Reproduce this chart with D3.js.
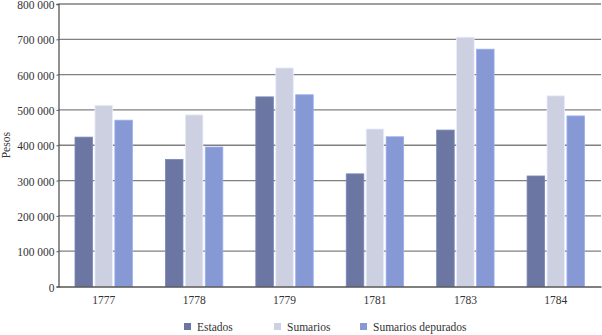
<!DOCTYPE html>
<html>
<head>
<meta charset="utf-8">
<script src="https://cdn.jsdelivr.net/npm/d3@7"></script>
<style>
  html, body { margin: 0; padding: 0; background: #fff; }
  svg text { font-family: "Liberation Serif", serif !important; fill: #333; }
</style>
</head>
<body>
<svg id="chart" width="602" height="335"></svg>
<script>
// Años y totales en pesos por tipo de documento
const years = ["1777", "1778", "1779", "1781", "1783", "1784"];
const series = ["Estados", "Sumarios", "Sumarios depurados"];
const estados = [423000, 360000, 537000, 319000, 443000, 313000];
const sumarios = [513000, 486000, 619000, 446000, 706000, 540000];
const depurados = [471000, 395000, 543000, 424000, 672000, 483000];
const yTicks = [0, 100000, 200000, 300000, 400000, 500000, 600000, 700000, 800000];
const colors = ["#6b77a2", "#cdd0e1", "#8799d5"];

const values = [estados, sumarios, depurados];
const rows = years.map((y, i) => ({ year: y, vals: series.map((s, j) => ({ key: s, value: values[j][i], idx: j })) }));

const svg = d3.select("#chart");
const m = { left: 58.5, right: 1, top: 4, bottom: 48.5 };
const W = 602, H = 335;

const x = d3.scaleBand().domain(years).range([m.left, W - m.right]).paddingInner(0).paddingOuter(0);
const xs = d3.scaleBand().domain(series).range([16.5, x.bandwidth() - 16.5]).paddingInner(0.12);
const y = d3.scaleLinear().domain([0, 800000]).range([H - m.bottom, m.top]);

const fmt = v => d3.format(",")(v).replace(/,/g, " ");

// horizontal grid
svg.append("g").selectAll("line").data(yTicks.filter(t => t > 0)).join("line")
  .attr("x1", m.left).attr("x2", W - m.right)
  .attr("y1", d => y(d)).attr("y2", d => y(d))
  .attr("stroke", "#808080").attr("stroke-width", 1.3);

// bars
const g = svg.append("g").selectAll("g").data(rows).join("g")
  .attr("transform", d => `translate(${x(d.year)},0)`);
g.selectAll("rect").data(d => d.vals).join("rect")
  .attr("x", d => xs(d.key))
  .attr("width", xs.bandwidth())
  .attr("y", d => y(d.value))
  .attr("height", d => y(0) - y(d.value))
  .attr("fill", d => colors[d.idx])
  .attr("stroke", d => d3.color(colors[d.idx]).brighter(0.35))
  .attr("stroke-width", 0.8);

// y axis
const yAxis = svg.append("g").attr("transform", `translate(${m.left},0)`)
  .call(d3.axisLeft(y).tickValues(yTicks).tickFormat(fmt).tickSize(2).tickPadding(2));
yAxis.select(".domain").attr("stroke", "#555").attr("stroke-width", 1.3);
yAxis.selectAll(".tick line").attr("stroke", "#555");
yAxis.selectAll("text").attr("font-size", 11.5).attr("dy", "0.4em");

// x axis
const xAxis = svg.append("g").attr("transform", `translate(0,${y(0)})`)
  .call(d3.axisBottom(x).tickSize(0).tickPadding(9));
xAxis.select(".domain").attr("stroke", "#555").attr("stroke-width", 1.3);
xAxis.selectAll("text").attr("font-size", 11.5);

// y title
svg.append("text")
  .attr("transform", `translate(10,${(m.top + y(0)) / 2}) rotate(-90)`)
  .attr("text-anchor", "middle").attr("font-size", 11.5)
  .text("Pesos");

// legend
const legendX = [184, 274, 360];
const lg = svg.append("g").selectAll("g").data(series).join("g")
  .attr("transform", (d, i) => `translate(${legendX[i]},327)`);
lg.append("rect").attr("x", 0).attr("y", -4).attr("width", 7).attr("height", 7)
  .attr("fill", (d, i) => colors[i]);
lg.append("text").attr("x", 13).attr("y", 0).attr("dy", "0.35em")
  .attr("font-size", 11.5).text(d => d);
</script>
</body>
</html>
